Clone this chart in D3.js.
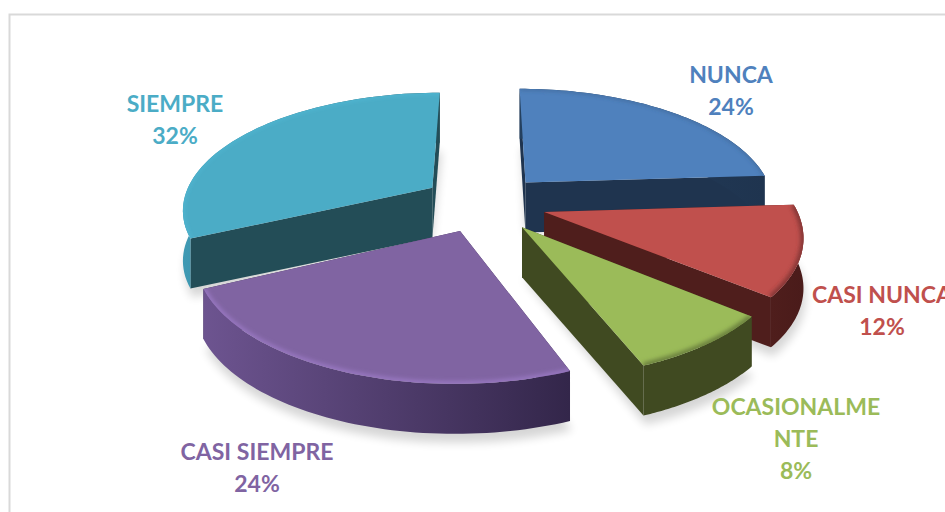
<!DOCTYPE html>
<html><head><meta charset="utf-8">
<script src="https://cdn.jsdelivr.net/npm/d3@7/dist/d3.min.js"></script>
<style>html,body{margin:0;padding:0;background:#fff;overflow:hidden}svg{display:block}text{font-family:Lato,"Open Sans",sans-serif;font-weight:700;font-size:23px;text-anchor:middle}</style>
</head><body><svg width="945" height="512"></svg>
<script>
const categories=["NUNCA","CASI NUNCA","OCASIONALMENTE","CASI SIEMPRE","SIEMPRE"];
const values=[24,12,8,24,32];
const labelLines=[["NUNCA","24%"],["CASI NUNCA","12%"],["OCASIONALME","NTE","8%"],["CASI SIEMPRE","24%"],["SIEMPRE","32%"]];
const labelX=[731,882,796,257,175];
const labelY=[83,303,415,460,112];
const topColors=["#4f81bd","#c0504d","#9bbb59","#8064a2","#4bacc6"];
const faceColors=["#1f344f","#4f1e1c","#404a21","#3b2b55","#234d57"];
const wallLeft=["#24405f","#4f1e1c","#404a21","#6d5490","#3f9ab4"];
const wallRight=["#1f344f","#4a1b1a","#404a21","#33264a","#234d57"];
const rimWidths=[1.5,6,6,5,1];
const drawOrder=[4,0,1,3,2];
const explode=0.25,tilt=0.17,depth=50;

const svg=d3.select("svg"),defs=svg.append("defs");
const sx=d3.scaleLinear().domain([-1,1]).range([484-250,484+250]);
const sy=d3.scaleLinear().domain([-1,1]).range([203-116,203+116]);
const pie=d3.pie().sort(null).value(d=>d);
const arcs=pie(values);
const project=(u,v,z)=>{const w=1-tilt*v;return [sx(u/w),sy(v/w)+depth*z];};
const line=d3.line();

defs.append("filter").attr("id","shadow").attr("x","-20%").attr("y","-20%").attr("width","140%").attr("height","140%")
  .append("feGaussianBlur").attr("stdDeviation",5);
const f2=defs.append("filter").attr("id","soft").attr("x","-20%").attr("y","-20%").attr("width","140%").attr("height","140%");
f2.append("feGaussianBlur").attr("stdDeviation",2);

svg.append("path").attr("d","M945,14.5H9.5V512").attr("fill","none").attr("stroke","#d9d9d9").attr("stroke-width",2);

drawOrder.forEach(i=>{
  const a=arcs[i],mid=(a.startAngle+a.endAngle)/2;
  const ou=explode*Math.sin(mid),ov=-explode*Math.cos(mid);
  const pt=(t,r,z)=>project(ou+r*Math.sin(t),ov-r*Math.cos(t),z);
  const ts=d3.range(0,61).map(k=>a.startAngle+(a.endAngle-a.startAngle)*k/60);
  const rimTop=ts.map(t=>pt(t,1,0)),rimBot=ts.map(t=>pt(t,1,1));
  const apexTop=pt(0,0,0),apexBot=pt(0,0,1);
  const g=svg.append("g");
  g.append("path").attr("d",line([apexBot,...rimBot.map(p=>[p[0]+2,p[1]+9])])+"Z")
    .attr("fill","#000").attr("opacity",.16).attr("filter","url(#shadow)");
  const grad=defs.append("linearGradient").attr("id","w"+i).attr("gradientUnits","userSpaceOnUse")
    .attr("x1",d3.min(rimTop,p=>p[0])).attr("x2",d3.max(rimTop,p=>p[0])).attr("y1",0).attr("y2",0);
  grad.append("stop").attr("offset",0).attr("stop-color",wallLeft[i]);
  grad.append("stop").attr("offset",1).attr("stop-color",wallRight[i]);
  const sT=rimTop[0],sB=rimBot[0],eT=rimTop[60],eB=rimBot[60];
  g.append("path").attr("d",line([apexTop,sT,sB,apexBot])+"Z").attr("fill",faceColors[i]);
  g.append("path").attr("d",line([apexTop,eT,eB,apexBot])+"Z").attr("fill",faceColors[i]);
  g.append("path").attr("d",line([...rimTop,...rimBot.slice().reverse()])+"Z").attr("fill",`url(#w${i})`);
  const topD=line([apexTop,...rimTop])+"Z";
  g.append("path").attr("d",topD).attr("fill",topColors[i]);
  defs.append("clipPath").attr("id","c"+i).append("path").attr("d",topD);
  const rim=d3.color(topColors[i]);
  g.append("path").attr("d",line(rimTop)).attr("fill","none").attr("clip-path",`url(#c${i})`)
    .attr("stroke",i===3||i===4?rim.brighter(.5):rim.darker(1.1)).attr("stroke-width",rimWidths[i]).attr("filter","url(#soft)");
});

labelLines.forEach((lines,i)=>{
  const t=svg.append("text").attr("fill",topColors[i]);
  lines.forEach((s,j)=>t.append("tspan").attr("x",labelX[i]).attr("y",labelY[i]+j*32).text(s));
});
</script></body></html>
